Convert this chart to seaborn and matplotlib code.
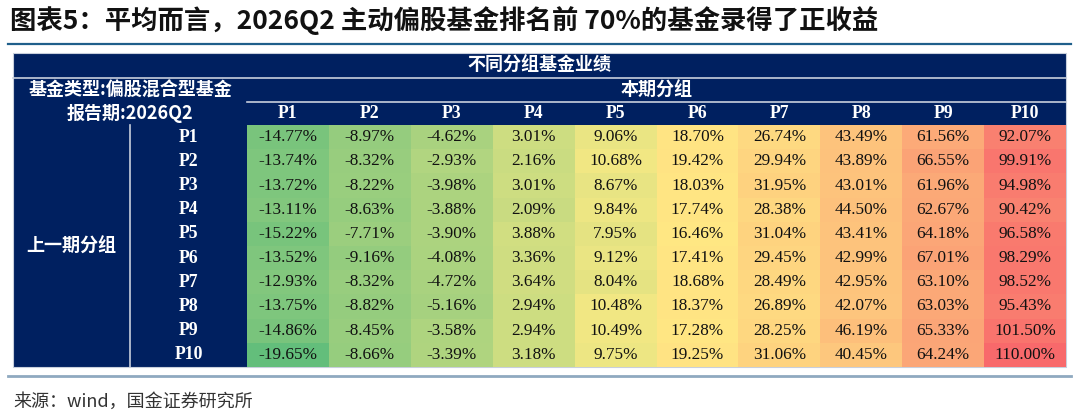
import numpy as np
import pandas as pd
import matplotlib
matplotlib.use("Agg")
import matplotlib.pyplot as plt
import seaborn as sns
from matplotlib.colors import LinearSegmentedColormap, TwoSlopeNorm
from matplotlib.patches import Rectangle

# 数据: 行 = 上一期分组, 列 = 本期分组
groups = ['P1', 'P2', 'P3', 'P4', 'P5', 'P6', 'P7', 'P8', 'P9', 'P10']
col_p1 = [-14.77, -13.74, -13.72, -13.11, -15.22, -13.52, -12.93, -13.75, -14.86, -19.65]
col_p2 = [-8.97, -8.32, -8.22, -8.63, -7.71, -9.16, -8.32, -8.82, -8.45, -8.66]
col_p3 = [-4.62, -2.93, -3.98, -3.88, -3.90, -4.08, -4.72, -5.16, -3.58, -3.39]
col_p4 = [3.01, 2.16, 3.01, 2.09, 3.88, 3.36, 3.64, 2.94, 2.94, 3.18]
col_p5 = [9.06, 10.68, 8.67, 9.84, 7.95, 9.12, 8.04, 10.48, 10.49, 9.75]
col_p6 = [18.70, 19.42, 18.03, 17.74, 16.46, 17.41, 18.68, 18.37, 17.28, 19.25]
col_p7 = [26.74, 29.94, 31.95, 28.38, 31.04, 29.45, 28.49, 26.89, 28.25, 31.06]
col_p8 = [43.49, 43.89, 43.01, 44.50, 43.41, 42.99, 42.95, 42.07, 46.19, 40.45]
col_p9 = [61.56, 66.55, 61.96, 62.67, 64.18, 67.01, 63.10, 63.03, 65.33, 64.24]
col_p10 = [92.07, 99.91, 94.98, 90.42, 96.58, 98.29, 98.52, 95.43, 101.50, 110.00]

df = pd.DataFrame({'P1': col_p1, 'P2': col_p2, 'P3': col_p3, 'P4': col_p4, 'P5': col_p5,
                   'P6': col_p6, 'P7': col_p7, 'P8': col_p8, 'P9': col_p9, 'P10': col_p10},
                  index=groups)
labels = df.map(lambda v: f'{v:.2f}%')

W, H = 1080, 417
NAVY = '#002060'
CJK = ['Noto Sans CJK SC', 'DejaVu Sans']
SERIF = ['Liberation Serif', 'DejaVu Serif']

fig = plt.figure(figsize=(W / 100, H / 100), dpi=100)
fig.patch.set_facecolor('white')

# 背景层, 用像素坐标
bg = fig.add_axes([0, 0, 1, 1])
bg.set_xlim(0, W)
bg.set_ylim(H, 0)
bg.axis('off')

# 表格区域
L, R, T, B = 13, 1066, 53, 367
DX0, DY0 = 247, 125
bg.add_patch(Rectangle((L, T), R - L, B - T, facecolor=NAVY, edgecolor='#c8cfdc', lw=0.8))

# 热力图 (Excel 三色刻度)
cmap = LinearSegmentedColormap.from_list('gyr', ['#63BE7B', '#FFEB84', '#F8696B'])
vals = df.values
norm = TwoSlopeNorm(vmin=vals.min(), vcenter=np.median(vals), vmax=vals.max())

ax = fig.add_axes([DX0 / W, 1 - B / H, (R - DX0) / W, (B - DY0) / H])
sns.heatmap(df, ax=ax, cmap=cmap, norm=norm, cbar=False, annot=labels, fmt='',
            annot_kws={'fontsize': 12.4, 'color': '#111111', 'family': SERIF})
ax.xaxis.tick_top()
ax.tick_params(length=0)
ax.set_xticklabels(df.columns, color='white', fontsize=12.8, fontweight='bold',
                   family=SERIF, va='center')
ax.tick_params(axis='x', pad=8.3)
ax.set_yticklabels(df.index, color='white', fontsize=12.8, fontweight='bold',
                   family=SERIF, rotation=0, ha='center')
ax.tick_params(axis='y', pad=42)
ax.set_xlabel('')
ax.set_ylabel('')

# 表头线
line_c = '#c8cfdc'
bg.plot([L, R], [78, 78], color=line_c, lw=1.2)
bg.plot([DX0, R], [102, 102], color=line_c, lw=1.2)
bg.plot([130, 130], [DY0, B], color=line_c, lw=1.2)

hdr = dict(color='white', fontsize=13, fontweight='bold', family=CJK,
           ha='center', va='center')
bg.text((L + R) / 2, 65.5, '不同分组基金业绩', **hdr)
bg.text((DX0 + R) / 2, 90, '本期分组', **hdr)
bg.text((L + DX0) / 2, 90, '基金类型:偏股混合型基金', **hdr)
bg.text((L + DX0) / 2, 113.5, '报告期:2026Q2', **hdr)
bg.text((L + 130) / 2, (DY0 + B) / 2, '上一期分组', **hdr)

# 标题
bg.text(10, 21, '图表5：平均而言，2026Q2 主动偏股基金排名前 70%的基金录得了正收益',
        fontsize=19, fontweight='bold', family=CJK, ha='left', va='center', color='#111111')
bg.plot([8, 1071], [44, 44], color='#1f5f8b', lw=1.6)

# 底线与来源
bg.plot([8, 1071], [376, 376], color='#8fa9c0', lw=2)
bg.text(13, 402, '来源：wind，国金证券研究所', fontsize=13, family=CJK,
        ha='left', va='center', color='#333333')

fig.savefig('out.png', dpi=100)
